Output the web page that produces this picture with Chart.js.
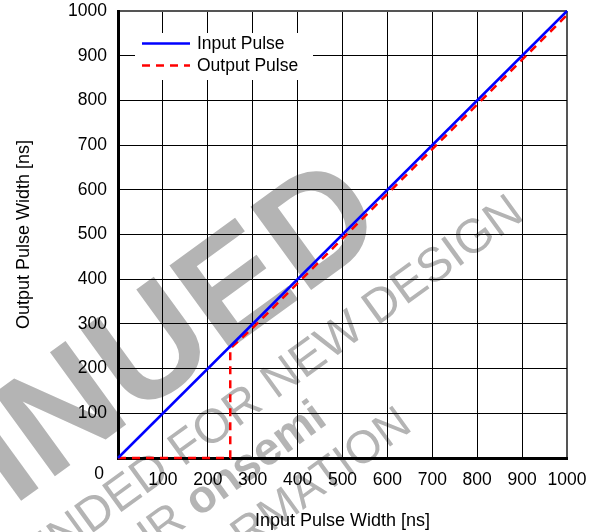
<!DOCTYPE html>
<html>
<head>
<meta charset="utf-8">
<script src="https://cdn.jsdelivr.net/npm/chart.js@4/dist/chart.umd.min.js"></script>
<style>
  body { margin: 0; background: #fff; }
  #wrap { width: 600px; height: 532px; }
</style>
</head>
<body>
<div id="wrap"><canvas id="pulseChart" width="600" height="532"></canvas></div>
<script>
// data
const inputX = [0, 1000];
const inputY = [0, 1000];
const outputX = [0, 250, 250, 300, 400, 500, 600, 700, 800, 900, 1000];
const outputY = [0, 0, 245, 291, 391, 491, 591, 691, 791, 891, 991];
const tickMin = 0;
const tickMax = 1000;
const tickStep = 100;
const seriesNames = ['Input Pulse', 'Output Pulse'];
const xTitle = 'Input Pulse Width [ns]';
const yTitle = 'Output Pulse Width [ns]';

const FONT = "'Liberation Sans', Arial, Helvetica, sans-serif";
Chart.defaults.font.family = FONT;
Chart.defaults.font.size = 17.5;
Chart.defaults.color = '#000';

// grey "discontinued" stamp behind the chart
const stampLines = [
  { parts: [['DISCONTINUED', 'bold 150px']], x: -118, y: -68 },
  { parts: [['NOT RECOMMENDED FOR NEW DESIGN', '48px']], x: 0, y: 0 },
  { parts: [['CONTACT YOUR ', '46px'], ['onsemi', 'bold 46px']], x: -280, y: 50 },
  { parts: [['REPRESENTATIVE FOR INFORMATION', '46px']], x: -215, y: 105 }
];
const stampPlugin = {
  id: 'stamp',
  beforeDraw(chart) {
    const c = chart.ctx;
    c.save();
    c.translate(526, 218);
    c.rotate(-36 * Math.PI / 180);
    c.fillStyle = '#b4b4b4';
    c.textAlign = 'right';
    c.textBaseline = 'alphabetic';
    stampLines.forEach(line => {
      let x = line.x;
      for (let i = line.parts.length - 1; i >= 0; i--) {
        const [txt, f] = line.parts[i];
        c.font = f + ' ' + FONT;
        c.fillText(txt, x, line.y);
        x -= c.measureText(txt).width;
      }
    });
    c.restore();
  }
};

// legend box inside the plot, plus the shared "0" label at the corner
const legendPlugin = {
  id: 'innerLegend',
  beforeDatasetsDraw(chart) {
    const a = chart.chartArea;
    const c = chart.ctx;
    c.save();
    c.fillStyle = '#fff';
    c.fillRect(a.left + 17, a.top + 22, 178, 47);
    c.restore();
  },
  afterDraw(chart) {
    const a = chart.chartArea;
    const c = chart.ctx;
    c.save();
    chart.data.datasets.forEach((ds, i) => {
      const y = a.top + 32.5 + i * 22;
      c.strokeStyle = ds.borderColor;
      c.lineWidth = ds.borderWidth;
      c.setLineDash(ds.borderDash || []);
      c.beginPath();
      c.moveTo(a.left + 24, y);
      c.lineTo(a.left + 72, y);
      c.stroke();
      c.setLineDash([]);
      c.fillStyle = '#000';
      c.font = '17.5px ' + FONT;
      c.textAlign = 'left';
      c.textBaseline = 'middle';
      c.fillText(ds.label, a.left + 79, y + 1);
    });
    const ys = chart.scales.y;
    c.font = '17.5px ' + FONT;
    c.textAlign = 'right';
    c.textBaseline = 'alphabetic';
    c.fillText(String(tickMin), ys.right - 14, ys.getPixelForValue(tickMin) + 21);
    c.restore();
  }
};

const gridColor = ctx => (ctx.tick && ctx.tick.value === tickMax) ? '#555' : '#000';
const gridWidth = ctx => (ctx.tick && ctx.tick.value === tickMax) ? 2 : 1;

new Chart(document.getElementById('pulseChart'), {
  type: 'line',
  data: {
    datasets: [
      {
        label: seriesNames[0],
        data: inputX.map((x, i) => ({ x: x, y: inputY[i] })),
        borderColor: '#0000ff',
        borderWidth: 2.5,
        pointRadius: 0,
        tension: 0,
        clip: false
      },
      {
        label: seriesNames[1],
        data: outputX.map((x, i) => ({ x: x, y: outputY[i] })),
        borderColor: '#ff0000',
        borderWidth: 2.5,
        borderDash: [8, 6],
        pointRadius: 0,
        tension: 0,
        clip: false
      }
    ]
  },
  options: {
    responsive: false,
    animation: false,
    layout: { padding: { top: 11, right: 33, left: 0, bottom: 0 } },
    plugins: {
      legend: { display: false },
      tooltip: { enabled: false }
    },
    scales: {
      x: {
        type: 'linear',
        min: tickMin,
        max: tickMax,
        afterFit(scale) {
          scale.height = 74;
          scale.paddingLeft = 0;
          scale.paddingRight = 0;
        },
        ticks: {
          stepSize: tickStep,
          padding: 12,
          maxRotation: 0,
          callback: v => v === tickMin ? '' : v
        },
        grid: { color: gridColor, lineWidth: gridWidth, drawTicks: false },
        border: { color: '#000', width: 3 },
        title: {
          display: true,
          text: xTitle,
          font: { size: 18 },
          padding: { top: 0, bottom: 0 }
        }
      },
      y: {
        type: 'linear',
        min: tickMin,
        max: tickMax,
        afterFit(scale) {
          scale.width = 118;
          scale.paddingTop = 0;
          scale.paddingBottom = 0;
        },
        ticks: {
          stepSize: tickStep,
          padding: 11,
          callback: v => v === tickMin ? '' : v
        },
        grid: { color: gridColor, lineWidth: gridWidth, drawTicks: false },
        border: { color: '#000', width: 3 },
        title: {
          display: true,
          text: yTitle,
          font: { size: 18 },
          padding: { top: 13, bottom: 0 }
        }
      }
    }
  },
  plugins: [stampPlugin, legendPlugin]
});
</script>
</body>
</html>
